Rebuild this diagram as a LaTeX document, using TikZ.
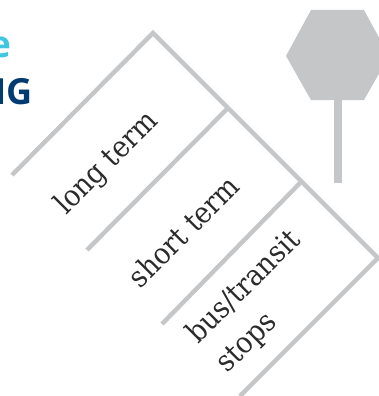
\documentclass[tikz,border=0pt]{standalone}
\usepackage{fontspec}
\setmainfont{DejaVu Serif Condensed}
\newfontfamily\headfont{Open Sans}
\definecolor{signgrey}{HTML}{C5C6C8}
\definecolor{headcyan}{HTML}{3FC6E0}
\definecolor{headnavy}{HTML}{003B71}
\definecolor{labelink}{HTML}{2B2B2B}
\tikzset{
  kerb/.style={draw=signgrey,line width=4.4pt,line cap=butt,line join=miter},
  zone/.style={rotate=45,font=\fontsize{29.5}{41}\selectfont,text=labelink,align=left,inner sep=0pt},
}
\begin{document}
\begin{tikzpicture}[x=1pt,y=-1pt]
\useasboundingbox (0,0) rectangle (379,396);
\clip (0,0) rectangle (379,396);
\coordinate (apex) at (153,33);
\coordinate (leftend) at (12,175);
\coordinate (corner) at (378,258);
\coordinate (botend) at (240,396);
\coordinate (j1) at (227,109);
\coordinate (j1end) at (87,250);
\coordinate (j2) at (301,182);
\coordinate (j2end) at (162,324);
\draw[kerb] (leftend) -- (apex) -- (corner) -- (botend);
\draw[kerb] (j1) -- (j1end);
\draw[kerb] (j2) -- (j2end);
\fill[signgrey] (311,10) -- (364,10) -- (389,56) -- (364,100) -- (311,100) -- (286,56) -- cycle;
\fill[signgrey] (333.7,100) rectangle (342,183);
\node[zone] (long) at (107,163.5) {long term};
\node[zone] (short) at (183.5,231) {short term};
\node[zone] (bus) at (259,302) {bus/transit\\stops};
\node[anchor=base east,inner sep=0pt,font=\headfont\bfseries\fontsize{37}{37}\selectfont,text=headcyan] (hone) at (12,58) {e};
\node[anchor=base east,inner sep=0pt,font=\headfont\bfseries\fontsize{36}{36}\selectfont,text=headnavy] (htwo) at (33,104) {NG};
\end{tikzpicture}
\end{document}
